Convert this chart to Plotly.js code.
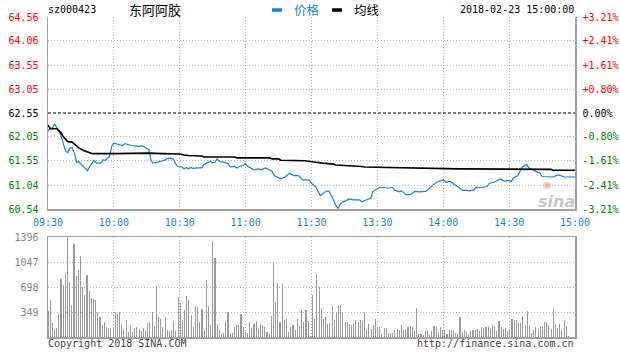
<!DOCTYPE html>
<html>
<head>
<meta charset="utf-8">
<script src="https://cdn.plot.ly/plotly-3.0.1.min.js"></script>
<style>html,body{margin:0;padding:0;background:#fff;}#chart{width:620px;height:356px;}</style>
</head>
<body>
<div id="chart"></div>
<script>
// ---- data ----
const stockCode = 'sz000423';
const stockName = '东阿阿胶';
const stamp = '2018-02-23 15:00:00';
const prevClose = 62.55;

const timeTicks = [0, 30, 60, 90, 120, 150, 180, 210, 240];
const timeLabels = ['09:30', '10:00', '10:30', '11:00', '11:30', '13:30', '14:00', '14:30', '15:00'];

const priceTicks = [64.56, 64.06, 63.55, 63.05, 62.55, 62.05, 61.55, 61.04, 60.54];
const priceLabels = ['64.56', '64.06', '63.55', '63.05', '62.55', '62.05', '61.55', '61.04', '60.54'];
const pctLabels = ['+3.21%', '+2.41%', '+1.61%', '+0.80%', '0.00%', '-0.80%', '-1.61%', '-2.41%', '-3.21%'];
const gridPrices = [64.06, 63.55, 63.05, 62.05, 61.55, 61.04];

const volTicks = [349, 698, 1047, 1396];

const priceMinutes = [0,1,2,3,4,5,6,7,8,9,10,11,12,13,14,15,16,18,19,21,22,24,25,26,28,29,30,32,33,34,35,37,38,41,43,44,46,47,48,50,53,55,57,58,59,61,62,63,64,65,66,68,70,71,72,74,75,76,77,78,79,80,82,83,85,86,87,89,90,91,93,94,96,97,99,100,102,103,105,106,108,110,111,112,114,116,118,119,120,121,122,124,125,127,128,129,130,131,132,133,134,136,137,139,142,143,145,147,148,150,151,153,155,157,158,160,161,163,165,167,169,172,174,175,177,179,180,181,183,184,186,187,189,191,192,194,195,196,198,200,201,203,205,206,208,209,211,212,214,215,216,217,218,219,221,222,224,225,228,230,232,233,235,238,240];
const prices = [62.17,62.24,62.24,62.32,62.24,62.19,62.06,61.90,61.75,61.72,61.82,61.82,61.72,61.52,61.53,61.48,61.43,61.34,61.43,61.56,61.50,61.50,61.57,61.56,61.64,61.85,61.92,61.90,61.89,61.87,61.91,61.88,61.87,61.85,61.86,61.84,61.78,61.54,61.50,61.52,61.56,61.61,61.59,61.50,61.43,61.42,61.38,61.41,61.38,61.41,61.39,61.40,61.40,61.47,61.49,61.54,61.50,61.52,61.59,61.54,61.52,61.52,61.49,61.42,61.43,61.40,61.43,61.45,61.49,61.43,61.38,61.36,61.38,61.36,61.40,61.38,61.33,61.24,61.20,61.17,61.21,61.29,61.26,61.24,61.24,61.15,61.15,61.14,61.08,61.03,61.00,60.82,60.86,60.92,60.91,60.80,60.73,60.63,60.55,60.63,60.68,60.72,60.75,60.73,60.73,60.69,60.73,60.77,60.91,60.96,60.99,60.99,60.98,60.99,60.93,60.90,60.92,60.84,60.84,60.91,60.90,60.91,61.00,61.03,61.10,61.13,61.15,61.10,61.12,61.09,61.03,61.00,60.93,60.93,60.92,60.94,61.00,60.98,61.00,61.01,61.08,61.10,61.14,61.17,61.12,61.14,61.12,61.19,61.24,61.33,61.42,61.45,61.47,61.40,61.35,61.33,61.29,61.22,61.21,61.21,61.25,61.25,61.21,61.21,61.21];

const avgMinutes = [0,1,4,6,7,8,9,11,13,14,16,18,20,30,37,46,52,60,62,64,70,71,85,86,101,102,105,106,117,120,121,122,125,130,131,137,143,144,160,161,179,187,229,230,240];
const avgPrices = [62.30,62.22,62.22,62.13,62.05,62.00,61.95,61.94,61.87,61.82,61.77,61.73,61.70,61.70,61.71,61.71,61.70,61.69,61.67,61.66,61.65,61.63,61.63,61.61,61.61,61.59,61.59,61.56,61.55,61.54,61.53,61.52,61.50,61.48,61.46,61.45,61.43,61.42,61.41,61.40,61.40,61.38,61.37,61.35,61.35];

const volumes = [360,515,197,108,122,318,810,726,900,1396,773,445,1302,853,937,1134,693,586,867,642,539,525,515,351,281,164,211,141,131,131,141,351,318,351,178,117,243,70,164,70,131,141,117,84,131,84,197,211,351,150,712,281,258,141,281,94,84,103,220,84,562,478,243,375,571,515,304,141,431,412,211,384,94,796,431,164,1335,1101,164,94,37,56,225,351,47,56,141,164,164,318,141,70,56,211,131,187,225,117,187,164,141,70,37,290,1040,487,759,211,740,234,258,70,141,164,94,258,150,375,211,375,225,10,586,258,881,703,384,258,281,187,197,431,234,351,445,445,351,211,206,187,164,187,243,211,234,220,351,117,187,117,164,258,126,141,47,131,131,56,56,56,103,117,94,164,103,108,141,150,141,94,408,37,37,23,84,94,28,84,150,141,70,141,103,103,37,94,103,94,56,47,281,70,94,70,47,84,94,103,117,84,141,131,141,150,117,164,150,84,225,141,117,131,84,117,258,234,243,197,197,290,164,365,150,56,103,141,117,141,141,211,211,164,117,408,178,131,187,117,243,150,10];

// ---- geometry helpers (pixel -> paper) ----
const W = 620, H = 356, L = 48, R = 575, T = 17, B = 337;
const px = x => (x - L) / (R - L);
const py = y => (B - y) / (B - T);

const RED = '#ff0000', GREEN = '#008000', BLACK = '#000000';
const colorFor = v => v > prevClose + 0.001 ? RED : (v < prevClose - 0.001 ? GREEN : BLACK);
const span = (t, c) => '<span style="color:' + c + '">' + t + '</span>';

const volX = volumes.map((v, i) => i * 237 / (volumes.length - 1));

const mono = 'DejaVu Sans Mono, monospace';
const cjk = 'Noto Sans CJK SC, sans-serif';
const gridCol = '#b4b4b4';
const axisCol = '#a0a0a0';

const traces = [
  {x: volX, y: volumes, type: 'bar', xaxis: 'x2', yaxis: 'y3', width: 0.5,
   marker: {color: '#9a9a9a', line: {width: 0}}, hoverinfo: 'skip'},
  {x: priceMinutes, y: prices, type: 'scatter', mode: 'lines', xaxis: 'x', yaxis: 'y',
   line: {color: '#1a7fd2', width: 1.2}, hoverinfo: 'skip'},
  {x: avgMinutes, y: avgPrices, type: 'scatter', mode: 'lines', xaxis: 'x', yaxis: 'y',
   line: {color: '#000000', width: 1.6}, hoverinfo: 'skip'},
  {x: [0], y: [prevClose], type: 'scatter', mode: 'markers', xaxis: 'x', yaxis: 'y2',
   marker: {opacity: 0}, hoverinfo: 'skip'},
  {x: [0], y: [prevClose], type: 'scatter', mode: 'markers', xaxis: 'x', yaxis: 'y4',
   marker: {opacity: 0}, hoverinfo: 'skip'}
];

const yRange = [priceTicks[priceTicks.length - 1], priceTicks[0]];

const layout = {
  width: W, height: H,
  margin: {l: L, r: W - R, t: T, b: H - B, pad: 0},
  paper_bgcolor: '#fff', plot_bgcolor: 'rgba(0,0,0,0)',
  showlegend: false,
  font: {family: mono, size: 10, color: '#000'},
  xaxis: {domain: [0, 1], anchor: 'y', range: [0, 240], tickvals: timeTicks, ticktext: timeLabels,
          showgrid: true, gridcolor: gridCol, griddash: '1px,2px', gridwidth: 1,
          showline: true, linecolor: axisCol, linewidth: 1.5, zeroline: false,
          ticks: '', ticklabelstandoff: 3, tickfont: {family: mono, size: 10, color: '#1a7fd2'}, fixedrange: true},
  yaxis: {domain: [py(209), 1], anchor: 'x', range: yRange, tickvals: priceTicks,
          ticktext: priceTicks.map((v, i) => span(priceLabels[i], colorFor(v))),
          showgrid: false, showline: true, linecolor: axisCol, linewidth: 1.5, zeroline: false,
          ticks: '', ticklabelstandoff: 6, tickfont: {family: mono, size: 10}, fixedrange: true},
  yaxis2: {overlaying: 'y', side: 'right', anchor: 'x', range: yRange, tickvals: priceTicks,
          ticktext: priceTicks.map((v, i) => span(pctLabels[i], colorFor(v))),
          showgrid: false, showline: true, linecolor: axisCol, linewidth: 1.5, zeroline: false,
          ticks: '', ticklabelstandoff: 4, tickfont: {family: mono, size: 10}, fixedrange: true},
  yaxis4: {overlaying: 'y', anchor: 'x', range: yRange, tickvals: gridPrices, showticklabels: false,
          showgrid: true, gridcolor: gridCol, griddash: '1px,2px', gridwidth: 1,
          showline: false, zeroline: false, ticks: '', fixedrange: true},
  xaxis2: {domain: [0, 1], anchor: 'y3', range: [0, 240], tickvals: timeTicks, showticklabels: false,
          showgrid: true, gridcolor: gridCol, griddash: '1px,2px', gridwidth: 1,
          showline: true, mirror: true, linecolor: axisCol, linewidth: 1.5, zeroline: false, ticks: '', fixedrange: true},
  yaxis3: {domain: [0, py(237)], anchor: 'x2', range: [0, volTicks[volTicks.length - 1]], tickvals: volTicks,
          showgrid: true, gridcolor: gridCol, griddash: '1px,2px', gridwidth: 1,
          showline: true, mirror: true, linecolor: axisCol, linewidth: 1.5, zeroline: false,
          ticks: '', ticklabelstandoff: 6, tickfont: {family: mono, size: 10, color: '#888'}, fixedrange: true},
  bargap: 0,
  shapes: [
    {type: 'line', xref: 'x', yref: 'y', x0: 0, x1: 240, y0: prevClose, y1: prevClose,
     line: {color: '#000', width: 1.2, dash: '3px,2px'}},
    {type: 'line', xref: 'paper', yref: 'paper', x0: px(272), x1: px(282), y0: py(10), y1: py(10),
     line: {color: '#1a7fd2', width: 3.5}},
    {type: 'line', xref: 'paper', yref: 'paper', x0: px(332), x1: px(342), y0: py(10), y1: py(10),
     line: {color: '#000', width: 3.5}}
  ],
  annotations: [
    {xref: 'paper', yref: 'paper', x: px(46), y: py(10), xanchor: 'left', yanchor: 'middle', showarrow: false,
     text: stockCode, font: {family: mono, size: 10, color: '#000'}},
    {xref: 'paper', yref: 'paper', x: px(127), y: py(10), xanchor: 'left', yanchor: 'middle', showarrow: false,
     text: stockName, font: {family: cjk, size: 13, color: '#000'}},
    {xref: 'paper', yref: 'paper', x: px(292), y: py(10), xanchor: 'left', yanchor: 'middle', showarrow: false,
     text: '价格', font: {family: cjk, size: 12.5, color: '#1a7fd2'}},
    {xref: 'paper', yref: 'paper', x: px(352), y: py(10), xanchor: 'left', yanchor: 'middle', showarrow: false,
     text: '均线', font: {family: cjk, size: 12.5, color: '#000'}},
    {xref: 'paper', yref: 'paper', x: px(576), y: py(10), xanchor: 'right', yanchor: 'middle', showarrow: false,
     text: stamp, font: {family: mono, size: 10, color: '#000'}},
    {xref: 'paper', yref: 'paper', x: px(46), y: py(343), xanchor: 'left', yanchor: 'middle', showarrow: false,
     text: 'Copyright 2018 SINA.COM', font: {family: mono, size: 10, color: '#444'}},
    {xref: 'paper', yref: 'paper', x: px(576), y: py(343), xanchor: 'right', yanchor: 'middle', showarrow: false,
     text: 'http://finance.sina.com.cn', font: {family: mono, size: 10, color: '#444'}},
    {xref: 'paper', yref: 'paper', x: px(556), y: py(201), xanchor: 'center', yanchor: 'middle', showarrow: false,
     text: '<b><i>sina</i></b>', font: {family: 'DejaVu Sans, sans-serif', size: 16, color: '#c8c8c8'}},
    {xref: 'paper', yref: 'paper', x: px(547), y: py(184), xanchor: 'center', yanchor: 'middle', showarrow: false,
     text: '◉', font: {family: 'DejaVu Sans, sans-serif', size: 10, color: '#f4b0b0'}}
  ]
};

Plotly.newPlot('chart', traces, layout, {displayModeBar: false, staticPlot: true});
</script>
</body>
</html>
